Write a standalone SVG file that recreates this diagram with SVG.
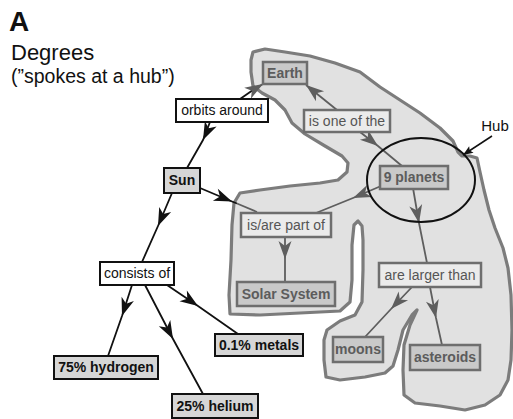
<svg xmlns="http://www.w3.org/2000/svg" width="513" height="419" viewBox="0 0 513 419">
<style>
text{font-family:"Liberation Sans",Arial,sans-serif;font-size:14px;text-anchor:middle}
.title{text-anchor:start}
.ob rect{fill:#fff;stroke:#111;stroke-width:2}
.ob text{fill:#111}
.oc rect{fill:#d6d6d6;stroke:#111;stroke-width:2}
.oc text{fill:#111;font-weight:bold}
.ic rect{fill:#c9c9c9;stroke:#6e6e6e;stroke-width:2.5}
.ic text{fill:#5c5c5c;font-weight:bold}
.il rect{fill:#ebebeb;stroke:#6e6e6e;stroke-width:2.5}
.il text{fill:#555}
.k{fill:none;stroke:#111;stroke-width:1.8}
.g{fill:none;stroke:#5e5e5e;stroke-width:1.8}
.km{marker-mid:url(#ak)}
.gm{marker-mid:url(#ag)}
</style>
<defs>
<marker id="ak" viewBox="-20 -8 22 16" markerWidth="22" markerHeight="16" refX="0" refY="0" orient="auto" markerUnits="userSpaceOnUse"><path d="M0,0 L-18,-6.5 L-13,0 L-18,6.5 Z" fill="#111"/></marker>
<marker id="ag" viewBox="-20 -8 22 16" markerWidth="22" markerHeight="16" refX="0" refY="0" orient="auto" markerUnits="userSpaceOnUse"><path d="M0,0 L-18,-6.5 L-13,0 L-18,6.5 Z" fill="#5e5e5e"/></marker>
<marker id="hk" viewBox="-12 -5 14 10" markerWidth="14" markerHeight="10" refX="0" refY="0" orient="auto" markerUnits="userSpaceOnUse"><path d="M0,0 L-10,-4 L-8,0 L-10,4 Z" fill="#111"/></marker>
</defs>

<g id="header">
<text class="title" x="9" y="31" style="font-size:28px;font-weight:bold;fill:#111">A</text>
<text class="title" x="11" y="60" style="font-size:22px;fill:#111">Degrees</text>
<text class="title" x="11" y="83" style="font-size:19.5px;fill:#111">(”spokes at a hub”)</text>
</g>

<g id="blob">
<path d="M253,52 L265,49 L285,52 L310,56 L335,63 L360,72 L380,87 L400,100 L420,113 L440,128 L453,141 L458,152 L462,156 L470,156 L477,158 L480,172 L484,190 L489,210 L495,228 L503,248 L508,268 L511,295 L512,330 L511,360 L508,380 L500,395 L485,405 L465,410 L440,406 L415,403 L404,395 L403,370 L404,345 L410,325 L417,310 L412,315 L403,330 L398,350 L393,366 L385,373 L365,377 L340,380 L326,377 L324,360 L324,340 L327,330 L340,321 L355,315 L362,302 L363,270 L363,240 L362,226 L358,221 L354,225 L352,245 L352,280 L350,302 L340,311 L300,313 L260,315 L230,314 L229,295 L231,260 L232,225 L234,203 L240,193 L260,190 L290,186 L320,183 L338,180 L347,172 L348,163 L342,156 L325,146 L305,134 L292,123 L285,110 L275,100 L262,93 L253,86 L251,72 L251,60 Z" fill="#e1e1e1" stroke="#7c7c7c" stroke-width="3.2" stroke-linejoin="round"/>
</g>

<g id="connectors">
<path class="k km" d="M210,122 L203,140 L187,168"/>
<path class="k" d="M240,99 L253,90"/>
<path class="g" d="M253,90 L263,84" marker-end="url(#ag)"/>
<path class="g" d="M337,110 L306,85" marker-end="url(#ag)"/>
<path class="g gm" d="M360,132 L378,146 L402,166"/>
<path class="g gm" d="M381,186 L353,198 L316,213"/>
<path class="k km" d="M200,188 L232,201.5 L237,203.5"/>
<path class="g" d="M237,203.5 L257,212"/>
<path class="g gm" d="M285,237 L285,259 L285,282"/>
<path class="k km" d="M172,193 L158,226 L142,262"/>
<path class="k km" d="M132,285 L122,316 L108,356"/>
<path class="k km" d="M145,285 L173,339 L203,394"/>
<path class="k km" d="M167,285 L198,306 L238,334"/>
<path class="g gm" d="M413,188 L419,223 L427,263"/>
<path class="g gm" d="M412,287 L391,309 L365,337"/>
<path class="g gm" d="M430,287 L436,318 L442,345"/>
<ellipse cx="421" cy="180" rx="54" ry="42" fill="none" stroke="#111" stroke-width="2"/>
<path d="M492,136 L463,155" fill="none" stroke="#111" stroke-width="1.5" marker-end="url(#hk)"/>
<text x="495" y="131" style="font-size:15px;fill:#111">Hub</text>
</g>

<g id="n-orbits" class="ob"><rect x="176" y="99" width="92" height="23"/><text x="222" y="115">orbits around</text></g>
<g id="n-earth" class="ic"><rect x="263" y="62" width="44" height="22"/><text x="285" y="78">Earth</text></g>
<g id="n-isoneof" class="il"><rect x="304" y="110" width="86" height="22"/><text x="347" y="126">is one of the</text></g>
<g id="n-planets" class="ic"><rect x="380" y="166" width="68" height="23"/><text x="414" y="182">9 planets</text></g>
<g id="n-sun" class="oc"><rect x="164" y="168" width="36" height="25"/><text x="182" y="185">Sun</text></g>
<g id="n-partof" class="il"><rect x="241" y="213" width="90" height="24"/><text x="286" y="230">is/are part of</text></g>
<g id="n-solar" class="ic"><rect x="237" y="282" width="98" height="24"/><text x="286" y="299">Solar System</text></g>
<g id="n-consists" class="ob"><rect x="100" y="262" width="74" height="23"/><text x="137" y="278">consists of</text></g>
<g id="n-hydrogen" class="oc"><rect x="54" y="356" width="104" height="23"/><text x="106" y="372">75% hydrogen</text></g>
<g id="n-helium" class="oc"><rect x="172" y="394" width="86" height="24"/><text x="215" y="411">25% helium</text></g>
<g id="n-metals" class="oc"><rect x="215" y="334" width="88" height="22"/><text x="259" y="350">0.1% metals</text></g>
<g id="n-larger" class="il"><rect x="379" y="263" width="102" height="24"/><text x="430" y="280">are larger than</text></g>
<g id="n-moons" class="ic"><rect x="333" y="337" width="50" height="25"/><text x="358" y="354">moons</text></g>
<g id="n-asteroids" class="ic"><rect x="410" y="345" width="70" height="25"/><text x="445" y="362">asteroids</text></g>
</svg>
